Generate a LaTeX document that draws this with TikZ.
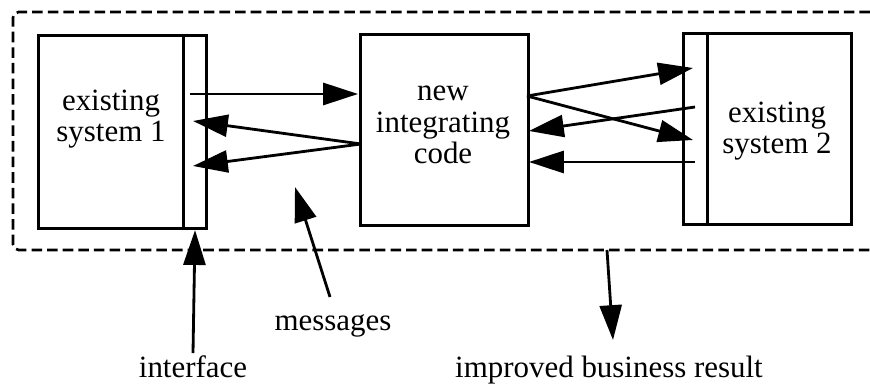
\documentclass[tikz,border=0pt]{standalone}
\usepackage{fontspec}
\setmainfont{Liberation Serif}
\usetikzlibrary{arrows.meta}

\tikzset{
  box/.style={draw, line width=2.2pt, inner sep=0pt, anchor=north west},
  msg/.style={-{Triangle[length=0.87cm, width=0.55cm]}, line width=2pt},
  frame/.style={dashed, dash pattern=on 7.5pt off 3.6pt, line width=1.9pt, rounded corners=4pt},
  lbl/.style={font=\fontsize{22}{22.5}\selectfont, align=center, inner sep=2pt},
}

\begin{document}
\begin{tikzpicture}[x=0.025cm, y=-0.025cm]
\useasboundingbox (0,0) rectangle (870,385);

%% dashed frame (runs off to the right)
\draw[frame] (870,12) -- (13,12) -- (13,250) -- (870,250);

%% boxes
\node[box, minimum width=3.625cm, minimum height=4.825cm] (sys1) at (37,34) {};
\node[box, minimum width=0.575cm, minimum height=4.825cm] (if1) at (182,34) {};
\node[box, minimum width=4.2cm, minimum height=4.775cm] (code) at (359,33) {};
\node[box, minimum width=0.6cm, minimum height=4.775cm] (if2) at (682,32) {};
\node[box, minimum width=3.6cm, minimum height=4.775cm] (sys2) at (706,32) {};

%% box texts
\node[lbl] (t1) at (111,119) {existing\\system 1};
\node[lbl] (t2) at (443,125) {new\\integrating\\code};
\node[lbl] (t3) at (777,131) {existing\\system 2};

%% ends of the messages
\coordinate (s1out) at (190,94);
\coordinate (s1in1) at (193,121);
\coordinate (s1in2) at (193,166);
\coordinate (c1in)  at (358,94);
\coordinate (c1out) at (361,144);
\coordinate (c2out) at (527,96);
\coordinate (c2in1) at (529,131);
\coordinate (c2in2) at (529,162);
\coordinate (s2in1) at (693,68);
\coordinate (s2in2) at (693,140);
\coordinate (s2out1) at (695,107);
\coordinate (s2out2) at (695,162);

%% messages
\draw[msg] (s1out) -- (c1in);
\draw[msg] (c1out) -- (s1in1);
\draw[msg] (c1out) -- (s1in2);
\draw[msg] (c2out) -- (s2in1);
\draw[msg] (c2out) -- (s2in2);
\draw[msg] (s2out1) -- (c2in1);
\draw[msg] (s2out2) -- (c2in2);

%% labels below
\node[lbl, anchor=base] (iface) at (193,378) {interface};
\node[lbl, anchor=base] (mess) at (333,331) {messages};
\node[lbl, anchor=base] (result) at (609,378) {improved business result};

\coordinate (mfrom) at (330,297);
\coordinate (mto) at (295,187);
\coordinate (rfrom) at (607,250);
\coordinate (rto) at (613,340);

\draw[msg] (iface.north) -- (if1.south);
\draw[msg] (mfrom) -- (mto);
\draw[msg] (rfrom) -- (rto);
\end{tikzpicture}
\end{document}
